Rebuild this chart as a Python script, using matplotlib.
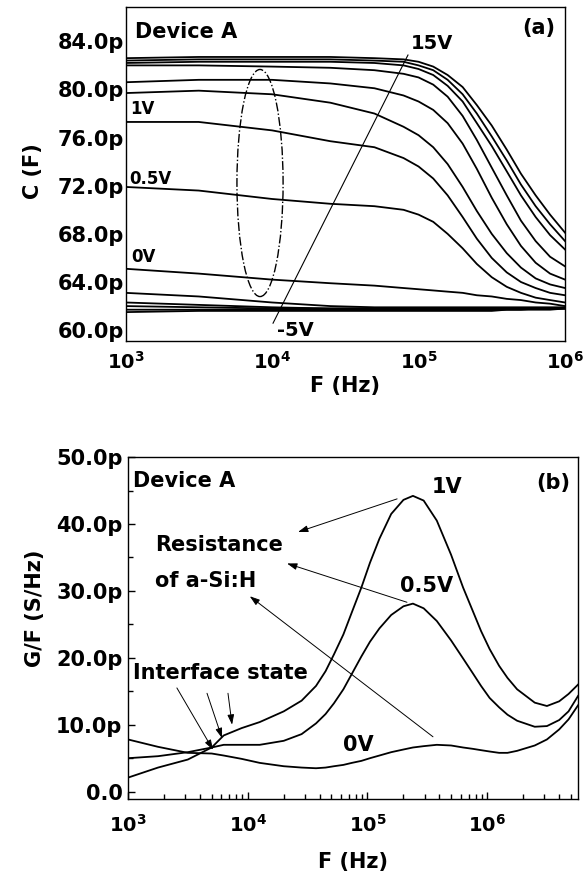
import math
import matplotlib
matplotlib.use('Agg')
import matplotlib.pyplot as plt
from matplotlib.patches import Ellipse
from matplotlib.ticker import FixedLocator, NullLocator, LogLocator, MultipleLocator, FuncFormatter

plt.rcParams['font.family'] = ['DejaVu Sans']
plt.rcParams['font.weight'] = 'bold'
plt.rcParams['mathtext.fontset'] = 'dejavusans'

# ---------------- panel (a): C vs F ----------------
freq_a = [1e3, 3.16e3, 1e4, 2.5e4, 5e4, 7.9e4, 1e5, 1.26e5, 1.58e5, 2e5, 2.5e5,
          3.16e5, 4e5, 5e5, 6.3e5, 7.9e5, 1e6]
cap_15V = [82.6, 82.7, 82.7, 82.7, 82.6, 82.5, 82.3, 81.9, 81.2, 80.2, 78.7, 77.0, 75.0, 73.0, 71.2, 69.6, 68.1]
cap_c2 = [82.4, 82.5, 82.5, 82.5, 82.4, 82.3, 82.0, 81.6, 80.8, 79.6, 78.0, 76.1, 74.1, 72.1, 70.3, 68.8, 67.4]
cap_c3 = [82.2, 82.3, 82.3, 82.3, 82.2, 82.0, 81.7, 81.2, 80.3, 79.0, 77.2, 75.3, 73.2, 71.2, 69.4, 67.9, 66.7]
cap_c4 = [82.0, 82.0, 81.9, 81.8, 81.6, 81.3, 81.0, 80.4, 79.4, 77.8, 75.8, 73.5, 71.2, 69.1, 67.4, 66.1, 65.3]
cap_c5 = [80.6, 80.8, 80.8, 80.5, 80.1, 79.5, 79.0, 78.3, 77.2, 75.5, 73.4, 71.0, 68.8, 67.0, 65.6, 64.7, 64.2]
cap_c6 = [79.7, 79.9, 79.6, 78.9, 78.0, 76.9, 76.2, 75.2, 73.8, 71.9, 69.9, 68.0, 66.4, 65.2, 64.3, 63.8, 63.5]
cap_1V = [77.3, 77.3, 76.6, 75.7, 75.2, 74.3, 73.6, 72.6, 71.2, 69.4, 67.6, 66.0, 64.8, 64.0, 63.5, 63.1, 62.9]
cap_0p5V = [71.9, 71.6, 70.9, 70.5, 70.3, 70.0, 69.6, 69.0, 68.0, 66.8, 65.5, 64.4, 63.6, 63.1, 62.7, 62.5, 62.3]
cap_0V = [65.1, 64.7, 64.2, 63.9, 63.7, 63.5, 63.4, 63.3, 63.2, 63.1, 62.9, 62.8, 62.6, 62.5, 62.3, 62.2, 62.0]
cap_n1 = [63.1, 62.8, 62.3, 62.0, 61.9, 61.9, 61.9, 61.9, 61.9, 61.9, 61.9, 61.9, 61.9, 61.9, 61.9, 61.9, 61.9]
cap_n2 = [62.3, 62.1, 61.9, 61.8, 61.8, 61.8, 61.8, 61.8, 61.8, 61.8, 61.8, 61.8, 61.8, 61.8, 61.8, 61.8, 61.8]
cap_n3 = [62.0, 61.9, 61.8, 61.8, 61.8, 61.8, 61.8, 61.8, 61.8, 61.8, 61.8, 61.8, 61.8, 61.8, 61.8, 61.8, 61.8]
cap_n4 = [61.7, 61.7, 61.7, 61.7, 61.7, 61.7, 61.7, 61.7, 61.7, 61.7, 61.7, 61.7, 61.7, 61.7, 61.8, 61.8, 61.8]
cap_m5V = [61.5, 61.6, 61.6, 61.6, 61.6, 61.6, 61.6, 61.6, 61.6, 61.6, 61.6, 61.6, 61.7, 61.7, 61.7, 61.7, 61.8]
cap_curves = [cap_15V, cap_c2, cap_c3, cap_c4, cap_c5, cap_c6, cap_1V, cap_0p5V,
              cap_0V, cap_n1, cap_n2, cap_n3, cap_n4, cap_m5V]
cap_yticks = [60, 64, 68, 72, 76, 80, 84]

# ---------------- panel (b): G/F vs F ----------------
freq_b = [1e3, 1.78e3, 3.16e3, 5.0e3, 6.3e3, 8.9e3, 1.26e4, 2.0e4, 2.82e4, 3.72e4,
          4.47e4, 5.25e4, 6.3e4, 7.41e4, 8.9e4, 1.05e5, 1.26e5, 1.58e5, 2.0e5, 2.4e5,
          2.95e5, 3.8e5, 5.0e5, 6.3e5, 7.59e5, 8.9e5, 1.05e6, 1.26e6, 1.48e6, 1.78e6,
          2.5e6, 3.16e6, 4.0e6, 4.79e6, 5.75e6]
gf_1V = [2.1, 3.6, 4.8, 6.6, 8.4, 9.5, 10.4, 12.0, 13.6, 15.8,
         18.0, 20.5, 23.5, 26.8, 30.5, 34.2, 37.8, 41.5, 43.6, 44.2,
         43.5, 40.5, 35.4, 30.5, 27.0, 24.0, 21.3, 18.8, 17.0, 15.3,
         13.3, 12.8, 13.5, 14.6, 16.0]
gf_0p5V = [5.0, 5.3, 5.9, 6.6, 7.0, 7.0, 7.0, 7.6, 8.6, 10.2,
           11.6, 13.2, 15.3, 17.6, 20.2, 22.4, 24.4, 26.4, 27.7, 28.1,
           27.4, 25.5, 22.6, 19.9, 17.7, 15.8, 14.0, 12.6, 11.5, 10.6,
           9.7, 9.8, 10.7, 12.0, 14.3]
gf_0V = [7.8, 6.7, 5.8, 5.7, 5.4, 4.9, 4.3, 3.8, 3.6, 3.5,
         3.6, 3.8, 4.0, 4.3, 4.6, 5.0, 5.4, 5.9, 6.3, 6.6,
         6.8, 7.0, 6.9, 6.6, 6.4, 6.2, 6.0, 5.8, 5.8, 6.1,
         6.9, 7.8, 9.3, 10.8, 12.9]
gf_yticks = [0, 10, 20, 30, 40, 50]

decade_ticks = [1e3, 1e4, 1e5, 1e6]

LW = 1.3
FS = 15


def pfmt(v, pos=None):
    return '0.0' if abs(v) < 1e-9 else '%.1fp' % v


def dfmt(v, pos=None):
    n = int(round(math.log10(v)))
    return r'$\mathbf{10^{%d}}$' % n


fig = plt.figure(figsize=(5.83, 8.88), dpi=100)

# ---- top panel ----
ax1 = fig.add_axes([0.2153, 0.6160, 0.7539, 0.3761])
for c in cap_curves:
    ax1.plot(freq_a, c, color='black', lw=LW)
ax1.set_xscale('log')
ax1.set_xlim(1e3, 1e6)
ax1.set_ylim(59.1, 86.85)
ax1.yaxis.set_major_locator(FixedLocator(cap_yticks))
ax1.yaxis.set_major_formatter(FuncFormatter(pfmt))
ax1.xaxis.set_major_locator(FixedLocator(decade_ticks))
ax1.xaxis.set_major_formatter(FuncFormatter(dfmt))
ax1.xaxis.set_minor_locator(NullLocator())
ax1.yaxis.set_minor_locator(NullLocator())
ax1.tick_params(axis='both', length=0, labelsize=FS)
ax1.tick_params(axis='y', pad=1)
ax1.tick_params(axis='x', pad=7, labelsize=14)
for s in ax1.spines.values():
    s.set_linewidth(1.0)
ax1.set_ylabel('C (F)', fontsize=FS, fontweight='bold')
ax1.yaxis.set_label_coords(-0.188, 0.51)
ax1.set_xlabel('F (Hz)', fontsize=FS, fontweight='bold')
ax1.xaxis.set_label_coords(0.5, -0.105)

ax1.text(0.022, 0.925, 'Device A', transform=ax1.transAxes, fontsize=FS,
         fontweight='bold', ha='left', va='center')
ax1.text(0.977, 0.937, '(a)', transform=ax1.transAxes, fontsize=FS,
         fontweight='bold', ha='right', va='center')
ax1.text(1.07e3, 78.4, '1V', fontsize=12, fontweight='bold', ha='left', va='center')
ax1.text(1.06e3, 72.6, '0.5V', fontsize=12, fontweight='bold', ha='left', va='center')
ax1.text(1.1e3, 66.1, '0V', fontsize=12, fontweight='bold', ha='left', va='center')
ax1.text(8.8e4, 83.86, '15V', fontsize=14, fontweight='bold', ha='left', va='center')
ax1.text(1.08e4, 60.0, '-5V', fontsize=14, fontweight='bold', ha='left', va='center')
ax1.plot([1.016e4, 8.47e4], [60.58, 82.86], color='black', lw=0.8)
ax1.add_patch(Ellipse((0.306, 0.473), 0.105, 0.68, transform=ax1.transAxes,
                      fill=False, ls='-.', lw=1.0, ec='black'))

# ---- bottom panel ----
ax2 = fig.add_axes([0.2196, 0.1002, 0.7719, 0.3851])
for c in (gf_1V, gf_0p5V, gf_0V):
    ax2.plot(freq_b, c, color='black', lw=LW)
ax2.set_xscale('log')
ax2.set_xlim(1e3, 5.75e6)
ax2.set_ylim(-1.1, 50)
ax2.yaxis.set_major_locator(FixedLocator(gf_yticks))
ax2.yaxis.set_minor_locator(MultipleLocator(5))
ax2.yaxis.set_major_formatter(FuncFormatter(pfmt))
ax2.xaxis.set_major_locator(FixedLocator(decade_ticks))
ax2.xaxis.set_major_formatter(FuncFormatter(dfmt))
ax2.xaxis.set_minor_locator(LogLocator(base=10, subs=range(2, 10)))
ax2.tick_params(axis='both', which='both', direction='in', top=False, right=False)
ax2.tick_params(axis='both', which='major', length=5, width=1.0, labelsize=FS)
ax2.tick_params(axis='both', which='minor', length=3.5, width=1.0)
ax2.tick_params(axis='y', which='major', pad=4)
ax2.tick_params(axis='x', which='major', pad=11, labelsize=14)
for s in ax2.spines.values():
    s.set_linewidth(1.0)
ax2.set_ylabel('G/F (S/Hz)', fontsize=FS, fontweight='bold')
ax2.yaxis.set_label_coords(-0.184, 0.558)
ax2.set_xlabel('F (Hz)', fontsize=FS, fontweight='bold')
ax2.xaxis.set_label_coords(0.5, -0.155)

ax2.text(0.011, 0.930, 'Device A', transform=ax2.transAxes, fontsize=FS,
         fontweight='bold', ha='left', va='center')
ax2.text(0.982, 0.924, '(b)', transform=ax2.transAxes, fontsize=FS,
         fontweight='bold', ha='right', va='center')
ax2.text(3.47e5, 45.5, '1V', fontsize=FS, fontweight='bold', ha='left', va='center')
ax2.text(1.87e5, 30.8, '0.5V', fontsize=FS, fontweight='bold', ha='left', va='center')
ax2.text(6.25e4, 7.0, '0V', fontsize=FS, fontweight='bold', ha='left', va='center')
ax2.text(1.68e3, 36.8, 'Resistance', fontsize=FS, fontweight='bold', ha='left', va='center')
ax2.text(1.68e3, 31.5, 'of a-Si:H', fontsize=FS, fontweight='bold', ha='left', va='center')
ax2.text(1.1e3, 17.7, 'Interface state', fontsize=FS, fontweight='bold', ha='left', va='center')

arrow_kw = dict(arrowstyle='-|>,head_length=0.6,head_width=0.2', lw=0.7,
                color='black', shrinkA=0, shrinkB=0, mutation_scale=10)
arrows = [((2.63e4, 38.8), (1.77e5, 43.75)),
          ((2.13e4, 34.1), (2.14e5, 28.3)),
          ((1.04e4, 29.2), (3.53e5, 8.2)),
          ((5.13e3, 6.25), (2.56e3, 15.5)),
          ((6.1e3, 8.0), (4.57e3, 14.7)),
          ((7.4e3, 10.0), (6.84e3, 14.7))]
for head, tail in arrows:
    ax2.annotate('', xy=head, xytext=tail, arrowprops=arrow_kw)

fig.savefig('out.png', dpi=100)
